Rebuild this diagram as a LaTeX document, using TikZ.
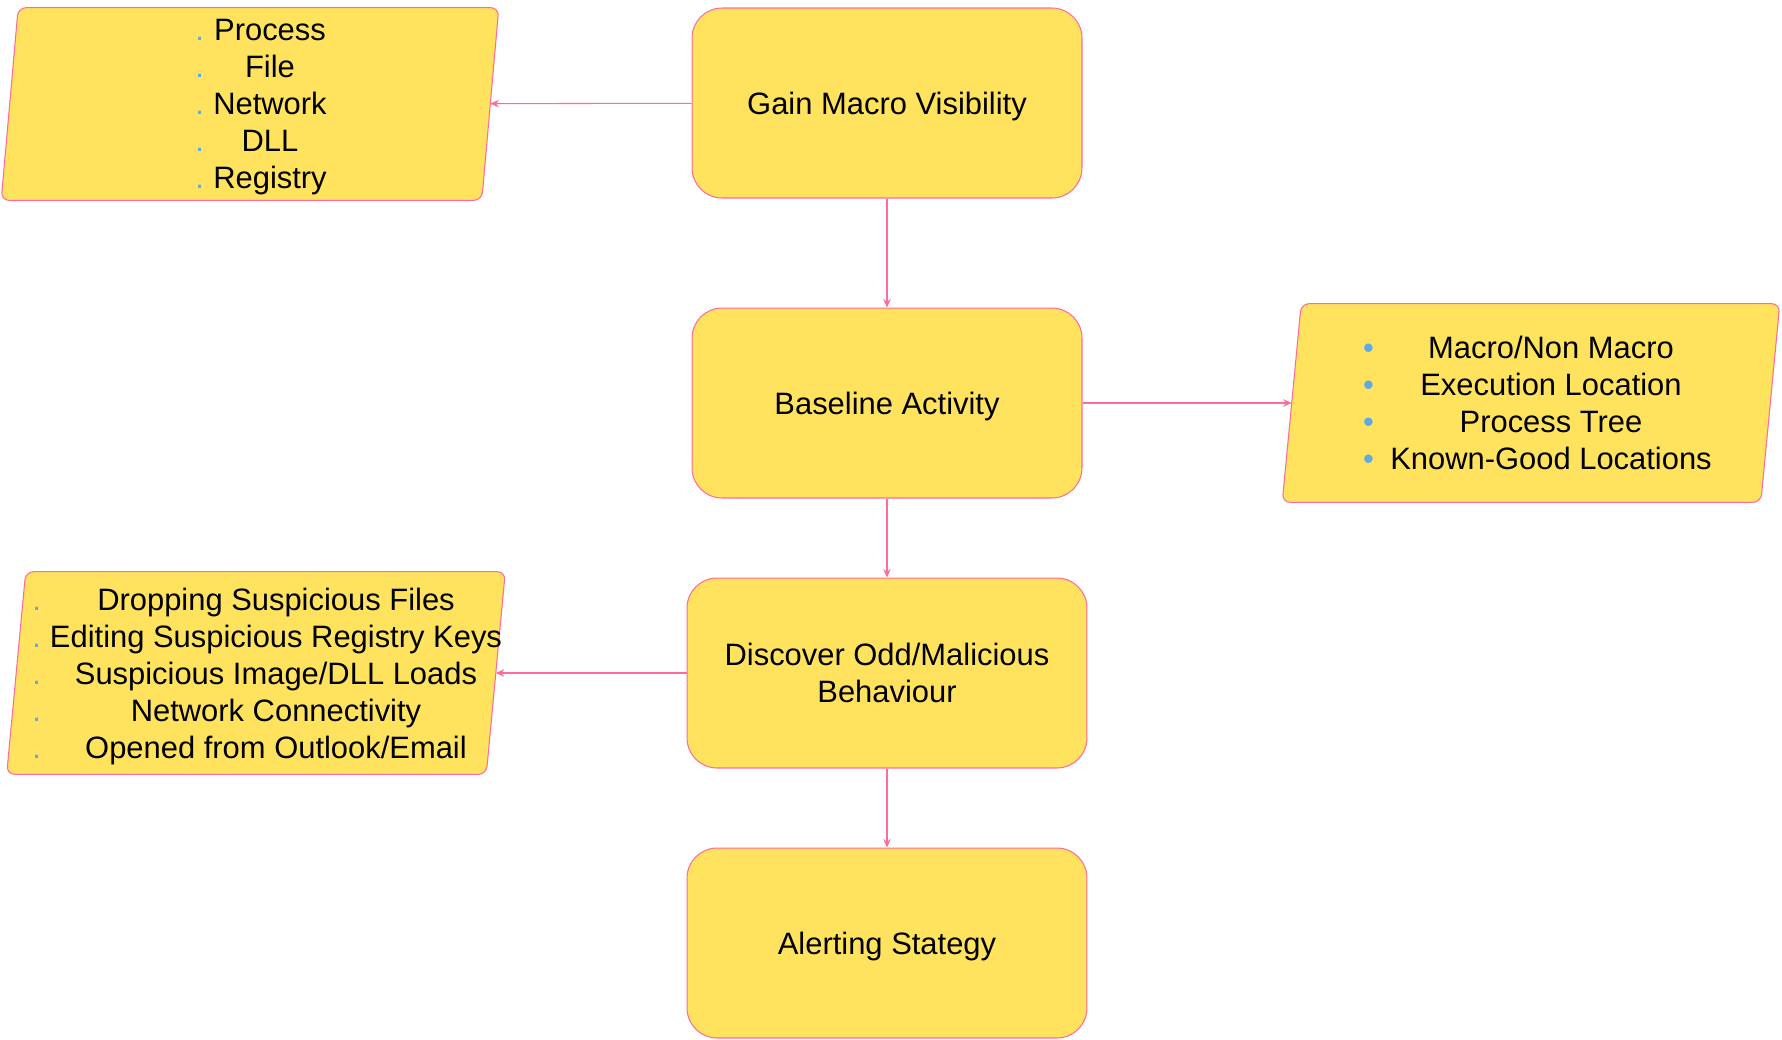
\documentclass[tikz,border=0pt]{standalone}
\usepackage{fontspec}
\setmainfont{Liberation Sans}
\usetikzlibrary{arrows.meta, positioning}

\definecolor{boxfill}{HTML}{FFE35F}
\definecolor{boxline}{HTML}{FF6B9A}
\definecolor{dotblue}{HTML}{5DAAE6}

% bullet hung to the left of a fixed-width, centred line
\newcommand{\smalldot}[1]{\llap{\textcolor{dotblue}{.}\hspace{#1}}}
\newcommand{\bigdot}[1]{\llap{\textcolor{dotblue}{\textbullet}\hspace{#1}}}

\begin{document}
\begin{tikzpicture}[
  x=0.02cm, y=-0.02cm,
  stage/.style={rectangle, rounded corners=0.6cm, draw=boxline, fill=boxfill,
    line width=0.6pt, minimum width=7.8cm, minimum height=3.8cm, align=center,
    text depth=0pt, font=\fontsize{17.6}{21}\selectfont},
  listarea/.style={rectangle, inner sep=0pt},
  listframe/.style={draw=boxline, fill=boxfill, line width=0.6pt, rounded corners=0.16cm},
  itemtext/.style={align=center, inner sep=0pt, text depth=0pt,
    font=\fontsize{17.6}{21}\selectfont},
  flow/.style={->, draw=boxline, line width=0.6pt},
  >={Stealth[length=0.17cm, width=0.15cm]}
]
  %------------------------------------------------------------
  %  PARAMETERS
  %------------------------------------------------------------
  \def\xmid{887}     % column of the main steps
  \def\xleft{250}    % column of the left lists
  \def\xright{1531}  % column of the right list

  %------------------------------------------------------------
  %  CANVAS
  %------------------------------------------------------------
  \useasboundingbox (0,0) rectangle (1782,1039);

  %------------------------------------------------------------
  %  MAIN STEPS
  %------------------------------------------------------------
  \node[stage] (gain)  at (\xmid,103) {Gain Macro Visibility};
  \node[stage] (base)  at (\xmid,403) {Baseline Activity};
  \node[stage, minimum width=8cm] (disc)  at (\xmid,673) {Discover Odd/Malicious\\Behaviour};
  \node[stage, minimum width=8cm] (alert) at (\xmid,943) {Alerting Stategy};

  %------------------------------------------------------------
  %  LIST AREAS (slanted frames drawn on them)
  %------------------------------------------------------------
  \node[listarea, minimum width=9.6cm,  minimum height=3.84cm] (srcs)  at (\xleft,104) {};
  \node[listarea, minimum width=9.56cm, minimum height=3.96cm] (feats) at (\xright,403) {};
  \node[listarea, minimum width=9.58cm, minimum height=4.04cm] (odds)  at (\xleft+6,673) {};

  \foreach \n/\s in {srcs/0.17cm, feats/0.19cm, odds/0.19cm} {
    \draw[listframe]
      ([xshift=\s]\n.north west) -- ([xshift=\s]\n.north east)
      -- ([xshift=-\s]\n.south east) -- ([xshift=-\s]\n.south west) -- cycle;
  }

  %------------------------------------------------------------
  %  LIST: telemetry sources
  %------------------------------------------------------------
  \node[itemtext] (srcs-txt) at (\xleft+20,104) {%
    \smalldot{0.2cm}\makebox[2.24cm]{Process}\\
    \smalldot{0.2cm}\makebox[2.24cm]{File}\\
    \smalldot{0.2cm}\makebox[2.24cm]{Network}\\
    \smalldot{0.2cm}\makebox[2.24cm]{DLL}\\
    \smalldot{0.2cm}\makebox[2.24cm]{Registry}};

  %------------------------------------------------------------
  %  LIST: baseline features
  %------------------------------------------------------------
  \node[itemtext] (feats-txt) at (\xright+20,403) {%
    \bigdot{0.34cm}\makebox[6.4cm]{Macro/Non Macro}\\
    \bigdot{0.34cm}\makebox[6.4cm]{Execution Location}\\
    \bigdot{0.34cm}\makebox[6.4cm]{Process Tree}\\
    \bigdot{0.34cm}\makebox[6.4cm]{Known-Good Locations}};

  %------------------------------------------------------------
  %  LIST: odd behaviours
  %------------------------------------------------------------
  \node[itemtext] (odds-txt) at (\xleft+26,673) {%
    \smalldot{0.18cm}\makebox[9.04cm]{Dropping Suspicious Files}\\
    \smalldot{0.18cm}\makebox[9.04cm]{Editing Suspicious Registry Keys}\\
    \smalldot{0.18cm}\makebox[9.04cm]{Suspicious Image/DLL Loads}\\
    \smalldot{0.18cm}\makebox[9.04cm]{Network Connectivity}\\
    \smalldot{0.18cm}\makebox[9.04cm]{Opened from Outlook/Email}};

  %------------------------------------------------------------
  %  CONNECTORS
  %------------------------------------------------------------
  \foreach \from/\to in {gain/base, base/disc, disc/alert} {
    \draw[flow] (\from.south) -- (\to.north);
  }
  \draw[flow] (gain) -- (srcs);
  \draw[flow] (base) -- (feats);
  \draw[flow] (disc) -- (odds);

\end{tikzpicture}
\end{document}
